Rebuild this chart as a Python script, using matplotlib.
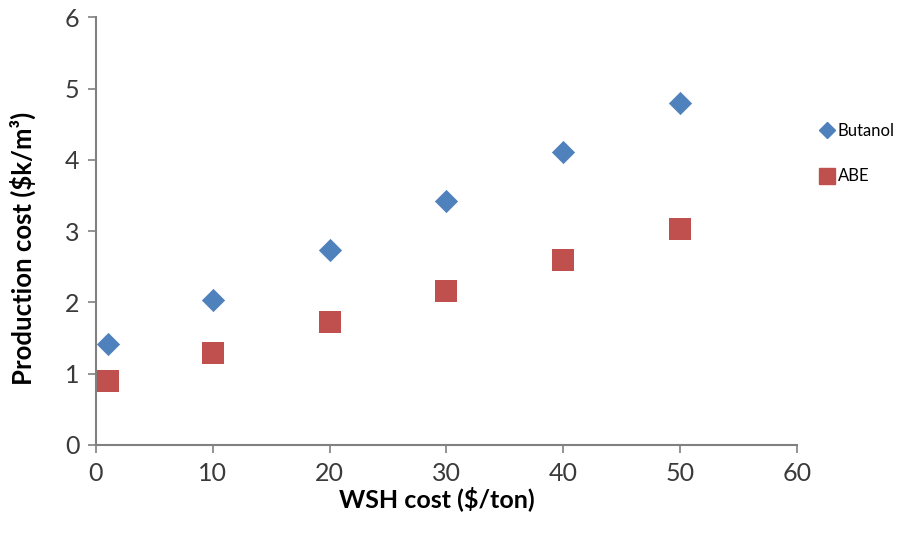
import matplotlib.pyplot as plt
from matplotlib.lines import Line2D

plt.rcParams['font.family'] = ['Lato', 'DejaVu Sans']

wsh_cost = [1, 10, 20, 30, 40, 50]
butanol = [1.42, 2.03, 2.73, 3.42, 4.11, 4.80]
abe = [0.90, 1.29, 1.73, 2.16, 2.60, 3.03]

blue = '#4F81BD'
red = '#C0504D'

fig = plt.figure(figsize=(8.97, 5.38), dpi=100)
ax = fig.add_axes([0.107, 0.173, 0.7815, 0.795])

ax.scatter(wsh_cost, butanol, marker='D', s=140, color=blue, linewidths=0, zorder=3)
ax.scatter(wsh_cost, abe, marker='s', s=260, color=red, linewidths=0, zorder=3)

ax.set_xlim(0, 60)
ax.set_ylim(0, 6)
ax.set_xticks(range(0, 61, 10))
ax.set_yticks(range(0, 7))

for side in ['top', 'right']:
    ax.spines[side].set_visible(False)
for side in ['left', 'bottom']:
    ax.spines[side].set_color('#808080')
    ax.spines[side].set_linewidth(1.5)
ax.tick_params(direction='out', length=6, width=1.2, color='#808080',
               labelsize=18, labelcolor='#3a3a3a', pad=6)

ax.set_xlabel('WSH cost ($/ton)', fontsize=18, fontweight='bold')
ax.set_ylabel('Production cost ($k/m³)', fontsize=18.5, fontweight='bold')
ax.xaxis.set_label_coords(0.486, -0.097)
ax.yaxis.set_label_coords(-0.085, 0.46)

handles = [
    Line2D([], [], marker='D', color=blue, linestyle='none', markersize=8),
    Line2D([], [], marker='s', color=red, linestyle='none', markersize=11),
]
fig.legend(handles, ['Butanol', 'ABE'], loc='center left', bbox_to_anchor=(0.905, 0.714),
           frameon=False, fontsize=12, handletextpad=0.15, labelspacing=1.75,
           handlelength=1.0, borderaxespad=0)

fig.savefig('out.png', dpi=100)
